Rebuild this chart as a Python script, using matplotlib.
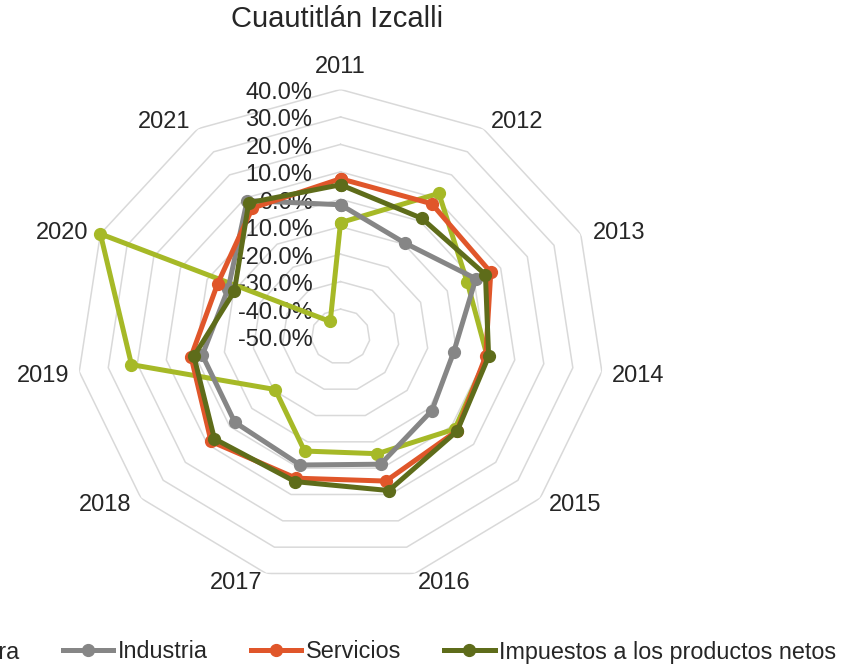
import numpy as np
import matplotlib
matplotlib.use('Agg')
import matplotlib.pyplot as plt
from matplotlib.transforms import offset_copy

# data (growth rates, %)
years = ['2011', '2012', '2013', '2014', '2015', '2016',
         '2017', '2018', '2019', '2020', '2021']
agricultura = [-8.5, 12.0, -2.5, 0.5, 1.5, -5.5, -6.5, -20.5, 22.0, 40.0, -43.5]
industria = [-2.0, -9.5, 0.7, -11.0, -8.8, -1.5, -1.2, -2.3, -2.4, -7.9, 8.9]
servicios = [7.5, 7.5, 6.3, 0.0, 2.5, 4.9, 3.8, 8.4, 1.5, -3.9, 5.6]
impuestos = [5.3, 1.2, 4.3, 1.0, 2.6, 8.5, 5.1, 6.9, 0.5, -10.2, 7.9]
tick_levels = [40, 30, 20, 10, 0, -10, -20, -30, -40, -50]

# pixel offsets of the year labels from the outer ring vertices
label_dx = [0, 33.5, 38, 36.5, 35.5, 29.5, -29.5, -35.5, -36.5, -38, -33.5]
label_dy = [22.5, 7, 1, -4.5, -6.7, -9.5, -9.5, -6.7, -4.5, 1, 7]

plt.rcParams['font.family'] = ['Liberation Sans', 'DejaVu Sans']
plt.rcParams['text.color'] = '#262626'

fig = plt.figure(figsize=(8.42, 6.71), dpi=100)
ax = fig.add_axes([0.0909, 0.1304, 0.6271, 0.7362], projection='polar')
ax.set_aspect('auto')
ax.set_theta_zero_location('N')
ax.set_theta_direction(-1)
ax.set_ylim(-50, 40)
ax.grid(False)
ax.set_xticks([])
ax.set_yticks([])
ax.spines['polar'].set_visible(False)
ax.patch.set_visible(False)

theta = np.linspace(0, 2 * np.pi, len(years), endpoint=False)
closed = np.append(theta, theta[0])

# polygon gridlines
for lv in tick_levels[:-1]:
    ax.plot(closed, [lv] * len(closed), color='#D9D9D9', lw=1.1, zorder=1)

series = [('Agricultura', agricultura, '#A6B927'),
          ('Industria', industria, '#868686'),
          ('Servicios', servicios, '#E0562A'),
          ('Impuestos a los productos netos', impuestos, '#5E6C1A')]
for name, vals, col in series:
    ax.plot(closed, vals + vals[:1], color=col, lw=3.6, marker='o', ms=8.5,
            label=name, clip_on=False, zorder=3)

# radial tick labels
trans = offset_copy(ax.transData, fig=fig, x=-28, y=-3.5, units='dots')
for lv in tick_levels:
    ax.text(0, lv, f'{lv:.1f}%', transform=trans, ha='right', va='center',
            fontsize=17, zorder=2)

# category labels
for th, yr, dx, dy in zip(theta, years, label_dx, label_dy):
    ax.annotate(yr, xy=(th, 40), xytext=(dx, dy), textcoords='offset pixels',
                ha='center', va='center', fontsize=17)

fig.text(337 / 842, 1 - 19 / 671, 'Cuautitlán Izcalli', ha='center',
         va='center', fontsize=21)

fig.legend(loc='center right', bbox_to_anchor=(848 / 842, 1 - 652 / 671),
           ncol=4, frameon=False, fontsize=16.8, handlelength=2.15,
           handletextpad=0.2, columnspacing=1.85, borderpad=0)

fig.savefig('out.png', dpi=100)
